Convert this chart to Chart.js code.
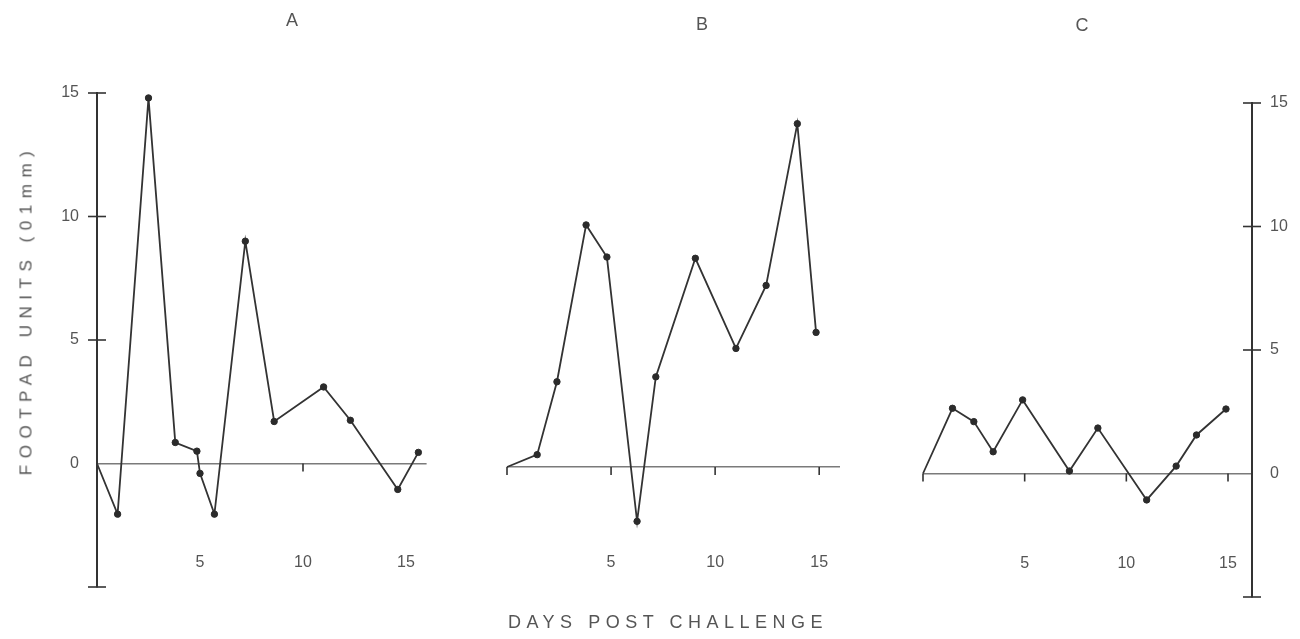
<!DOCTYPE html>
<html><head><meta charset="utf-8">
<script src="https://cdn.jsdelivr.net/npm/chart.js@4.4.1/dist/chart.umd.min.js"></script>
<style>
html,body{margin:0;padding:0;background:#fff;width:1300px;height:639px;overflow:hidden;position:relative;}
canvas{position:absolute;top:0;}
.t{position:absolute;font-family:"Liberation Sans",Arial,sans-serif;color:#555;white-space:nowrap;line-height:1;}
</style></head><body>
<canvas id="cA" width="450" height="639" style="left:0px"></canvas>
<canvas id="cB" width="420" height="639" style="left:450px"></canvas>
<canvas id="cC" width="430" height="639" style="left:870px"></canvas>
<div id="tA" class="t"></div><div id="tB" class="t"></div><div id="tC" class="t"></div>
<div id="ty" class="t"></div><div id="tx" class="t"></div>
<script>
// ---- data ----
const PANEL_TITLES = ['A', 'B', 'C'];
const A_DAYS  = [0, 1.0, 2.5, 3.8, 4.85, 5.0, 5.7, 7.2, 8.6, 11.0, 12.3, 14.6, 15.6];
const A_UNITS = [0, -2.05, 14.8, 0.85, 0.5, -0.4, -2.05, 9.0, 1.7, 3.1, 1.75, -1.05, 0.45];
const B_DAYS  = [0, 1.45, 2.4, 3.8, 4.8, 6.25, 7.15, 9.05, 11.0, 12.45, 13.95, 14.85];
const B_UNITS = [0, 0.5, 3.45, 9.8, 8.5, -2.2, 3.65, 8.45, 4.8, 7.35, 13.9, 5.45];
const C_DAYS  = [0, 1.45, 2.5, 3.45, 4.9, 7.2, 8.6, 11.0, 12.45, 13.45, 14.9];
const C_UNITS = [0, 2.64, 2.1, 0.88, 2.98, 0.1, 1.84, -1.07, 0.3, 1.56, 2.61];
const X_TICK_LABELS = [5, 10, 15];
const Y_TICK_VALUES = [-5, 0, 5, 10, 15];
const A_BASE_TICKS = [10];
const B_BASE_TICKS = [0, 5, 10, 15];
const C_BASE_TICKS = [0, 5, 10, 15];
const Y_TITLE = 'FOOTPAD UNITS (01mm)';
const X_TITLE = 'DAYS POST CHALLENGE';

const FONT = '"Liberation Sans", Arial, sans-serif';
const INK = '#333';
const TXT = '#555';

const marksPlugin = {
  id: 'marks',
  beforeDatasetsDraw(chart, args, opts) {
    const ctx = chart.ctx, x = chart.scales.x, y = chart.scales.y, ca = chart.chartArea;
    ctx.save();
    ctx.strokeStyle = INK; ctx.lineWidth = 1.6;
    const y0 = y.getPixelForValue(0);
    (opts.baseTicks || []).forEach(v => {
      const px = x.getPixelForValue(v);
      ctx.beginPath(); ctx.moveTo(px, y0); ctx.lineTo(px, y0 + 8); ctx.stroke();
    });
    if (opts.axisSide) {
      const ax = opts.axisSide === 'left' ? ca.left : ca.right;
      Y_TICK_VALUES.forEach(v => {
        if (v === 0) return;
        const py = y.getPixelForValue(v);
        ctx.beginPath(); ctx.moveTo(ax - 9, py); ctx.lineTo(ax + 9, py); ctx.stroke();
      });
    }
    ctx.restore();
  }
};

function makePanel(id, days, units, cfg) {
  const yScale = {
    type: 'linear', min: -5, max: 15, position: cfg.axisSide || 'left',
    afterBuildTicks: s => { s.ticks = Y_TICK_VALUES.map(v => ({ value: v })); },
    afterFit: s => { s.width = cfg.yWidth; },
    border: { display: !!cfg.axisSide, color: INK, width: 2 },
    grid: {
      drawTicks: false, lineWidth: 1.5,
      color: c => (c.tick && c.tick.value === 0) ? '#7a7a7a' : 'rgba(0,0,0,0)'
    },
    ticks: {
      display: !!cfg.axisSide, padding: 18, color: TXT,
      font: { family: FONT, size: 16 },
      callback: v => (v === -5 ? '' : String(v))
    }
  };
  return new Chart(document.getElementById(id), {
    type: 'scatter',
    data: {
      datasets: [{
        data: days.map((d, i) => ({ x: d, y: units[i] })),
        showLine: true, tension: 0, clip: false,
        borderColor: INK, borderWidth: 1.8,
        pointRadius: c => (c.dataIndex === 0 ? 0 : 3.2),
        pointBackgroundColor: '#2b2b2b', pointBorderColor: '#2b2b2b', pointBorderWidth: 1
      }]
    },
    options: {
      responsive: false, animation: false, devicePixelRatio: 1,
      layout: { padding: cfg.padding },
      plugins: { legend: { display: false }, tooltip: { enabled: false },
        marks: { axisSide: cfg.axisSide, baseTicks: cfg.baseTicks } },
      scales: {
        x: {
          type: 'linear', min: 0, max: cfg.xMax, position: 'bottom',
          afterBuildTicks: s => { s.ticks = X_TICK_LABELS.map(v => ({ value: v })); },
          afterFit: s => { s.height = 0; },
          border: { display: false },
          grid: { display: false, drawTicks: false },
          ticks: { mirror: true, padding: cfg.xLabelPad, color: TXT, font: { family: FONT, size: 16 },
            maxRotation: 0, autoSkip: false }
        },
        y: yScale
      }
    },
    plugins: [marksPlugin]
  });
}

// Panel A: chart area x 97..426.6, y 93..587
makePanel('cA', A_DAYS, A_UNITS, {
  axisSide: 'left', yWidth: 97, xMax: 16, baseTicks: A_BASE_TICKS, xLabelPad: 14.6,
  padding: { left: 0, top: 93, right: 450 - 426.6, bottom: 639 - 587 }
});
// Panel B: chart area x 507..840 (canvas at 450), y 96.5..590.5
makePanel('cB', B_DAYS, B_UNITS, {
  axisSide: null, yWidth: 0, xMax: 16, baseTicks: B_BASE_TICKS, xLabelPad: 18,
  padding: { left: 57, top: 96.5, right: 420 - 390, bottom: 639 - 590.5 }
});
// Panel C: chart area x 923..1252 (canvas at 870), y 103..597
makePanel('cC', C_DAYS, C_UNITS, {
  axisSide: 'right', yWidth: 48, xMax: 16.18, baseTicks: C_BASE_TICKS, xLabelPad: 23.5,
  padding: { left: 53, top: 103, right: 0, bottom: 639 - 597 }
});

// ---- text labels ----
const mctx = document.createElement('canvas').getContext('2d');
function place(id, text, size, cx, cy, target, rotate) {
  const el = document.getElementById(id);
  el.textContent = text;
  el.style.fontSize = size + 'px';
  if (target) {
    mctx.font = size + 'px ' + FONT;
    const w = mctx.measureText(text).width;
    const ls = (target - w) / (text.length - 1);
    el.style.letterSpacing = ls + 'px';
    el.style.marginRight = (-ls) + 'px';
  }
  el.style.left = cx + 'px';
  el.style.top = cy + 'px';
  el.style.transform = 'translate(-50%,-50%)' + (rotate ? ' rotate(-90deg)' : '');
}
place('tA', PANEL_TITLES[0], 18, 292, 20);
place('tB', PANEL_TITLES[1], 18, 702, 24);
place('tC', PANEL_TITLES[2], 18, 1082, 25);
place('ty', Y_TITLE, 17, 26, 310, 324, true);
place('tx', X_TITLE, 18, 668, 622, 315, false);
</script>
</body></html>
